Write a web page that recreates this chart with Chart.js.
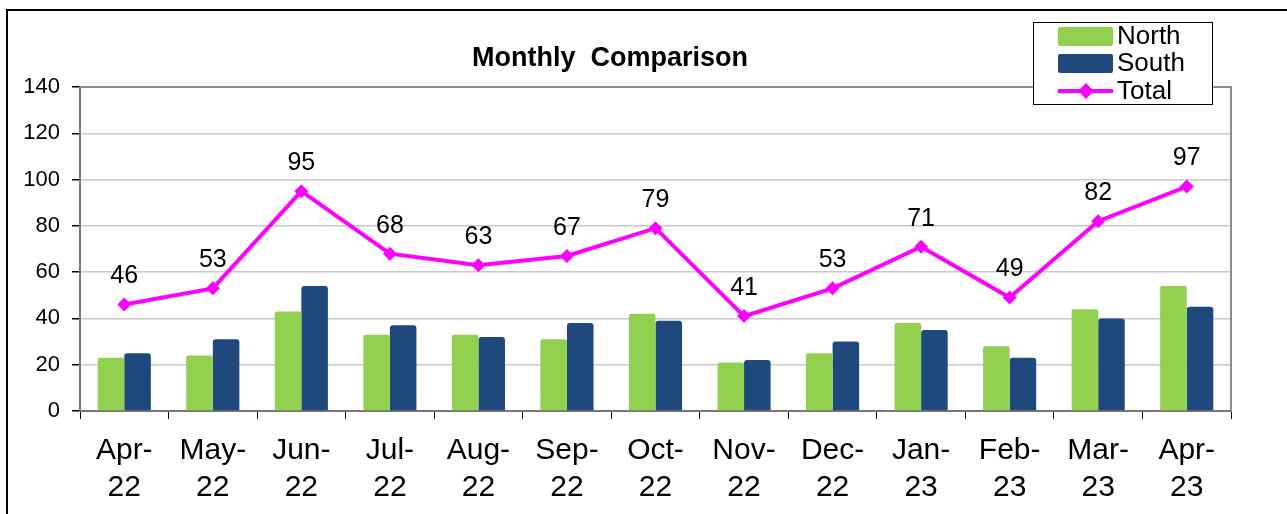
<!DOCTYPE html>
<html>
<head>
<meta charset="utf-8">
<script src="https://cdn.jsdelivr.net/npm/chart.js@4.4.1/dist/chart.umd.min.js"></script>
<style>
html,body{margin:0;padding:0;background:#fff;}
#wrap{position:relative;width:1287px;height:514px;}
</style>
</head>
<body>
<div id="wrap"><canvas id="c" width="1287" height="514"></canvas></div>
<script>
const categories = [['Apr-','22'],['May-','22'],['Jun-','22'],['Jul-','22'],['Aug-','22'],['Sep-','22'],['Oct-','22'],['Nov-','22'],['Dec-','22'],['Jan-','23'],['Feb-','23'],['Mar-','23'],['Apr-','23']];
const northValues = [23, 24, 43, 33, 33, 31, 42, 21, 25, 38, 28, 44, 54];
const southValues = [25, 31, 54, 37, 32, 38, 39, 22, 30, 35, 23, 40, 45];
const totalValues = [46, 53, 95, 68, 63, 67, 79, 41, 53, 71, 49, 82, 97];
const yTicks = [0, 20, 40, 60, 80, 100, 120, 140];
const chartTitle = 'Monthly  Comparison';

const FONT = '"Liberation Sans", Arial, sans-serif';
const GREEN = '#92D050', BLUE = '#1F497D', MAGENTA = '#FF00FF';

const framePlugin = {
  id: 'frame',
  beforeDraw(chart) {
    const ctx = chart.ctx;
    ctx.save();
    ctx.fillStyle = '#fff';
    ctx.fillRect(0, 0, chart.width, chart.height);
    ctx.strokeStyle = '#000';
    ctx.lineWidth = 2;
    ctx.beginPath();
    ctx.moveTo(7, chart.height);
    ctx.lineTo(7, 10);
    ctx.lineTo(chart.width, 10);
    ctx.stroke();
    ctx.restore();
  },
  afterDatasetsDraw(chart) {
    const ctx = chart.ctx, a = chart.chartArea;
    ctx.save();
    ctx.strokeStyle = '#8c8c8c';
    ctx.lineWidth = 2;
    ctx.beginPath();
    ctx.moveTo(a.left, a.top);
    ctx.lineTo(a.right, a.top);
    ctx.lineTo(a.right, a.bottom);
    ctx.stroke();
    ctx.restore();
  },
  afterDraw(chart) {
    const ctx = chart.ctx;
    ctx.save();
    // title
    ctx.fillStyle = '#000';
    ctx.font = 'bold 27px ' + FONT;
    ctx.textAlign = 'center';
    ctx.textBaseline = 'alphabetic';
    ctx.fillText(chartTitle, 610, 66);
    // data labels for total
    const meta = chart.getDatasetMeta(2);
    ctx.font = '25px ' + FONT;
    ctx.textBaseline = 'middle';
    meta.data.forEach((pt, i) => {
      ctx.fillText(String(totalValues[i]), pt.x, pt.y - 28);
    });
    // legend
    const lx = 1033, ly = 22, lw = 179, lh = 82;
    ctx.fillStyle = '#fff';
    ctx.fillRect(lx, ly, lw, lh);
    ctx.strokeStyle = '#000';
    ctx.lineWidth = 1;
    ctx.strokeRect(lx + 0.5, ly + 0.5, lw, lh);
    const rows = [36, 63, 91];
    ctx.font = '26px ' + FONT;
    ctx.textAlign = 'left';
    chart.data.datasets.forEach((d, i) => {
      const y = rows[i];
      if (d.type === 'line') {
        ctx.strokeStyle = MAGENTA;
        ctx.lineWidth = 4;
        ctx.beginPath();
        ctx.moveTo(1058, y);
        ctx.lineTo(1113, y);
        ctx.stroke();
        ctx.fillStyle = MAGENTA;
        ctx.beginPath();
        ctx.moveTo(1086, y - 8);
        ctx.lineTo(1094, y);
        ctx.lineTo(1086, y + 8);
        ctx.lineTo(1078, y);
        ctx.closePath();
        ctx.fill();
      } else {
        ctx.fillStyle = d.backgroundColor;
        ctx.beginPath();
        ctx.roundRect(1058, y - 9, 55, 19, 2);
        ctx.fill();
      }
      ctx.fillStyle = '#000';
      ctx.fillText(d.label, 1117, y + 1);
    });
    ctx.restore();
  }
};

new Chart(document.getElementById('c'), {
  type: 'bar',
  data: {
    labels: categories,
    datasets: [
      { type: 'bar', label: 'North', data: northValues, backgroundColor: GREEN, borderRadius: {topLeft: 2, topRight: 2}, borderSkipped: 'bottom', categoryPercentage: 0.6, barPercentage: 1.0, order: 2 },
      { type: 'bar', label: 'South', data: southValues, backgroundColor: BLUE, borderRadius: {topLeft: 3, topRight: 3}, borderSkipped: 'bottom', categoryPercentage: 0.6, barPercentage: 1.0, order: 2 },
      { type: 'line', label: 'Total', data: totalValues, borderColor: MAGENTA, backgroundColor: MAGENTA, borderWidth: 4, pointStyle: 'rectRot', pointRadius: 7, pointHoverRadius: 7, pointBorderWidth: 0, tension: 0, order: 1 }
    ]
  },
  options: {
    responsive: false,
    animation: false,
    devicePixelRatio: 1,
    layout: { padding: { left: 0, top: 87, right: 56, bottom: 0 } },
    plugins: { legend: { display: false }, title: { display: false }, tooltip: { enabled: false } },
    scales: {
      x: {
        offset: true,
        grid: { offset: true, drawOnChartArea: false, drawTicks: true, tickLength: 8, color: '#000', lineWidth: 1 },
        border: { display: true, color: '#777', width: 2 },
        ticks: { color: '#000', font: { family: FONT, size: 30, lineHeight: 1.23 }, padding: 13, maxRotation: 0, autoSkip: false },
        afterFit(scale) { scale.height = 103; }
      },
      y: {
        min: 0, max: 140,
        afterBuildTicks(scale) { scale.ticks = yTicks.map(v => ({ value: v })); },
        grid: { color: (c) => c.tick && c.tick.value === 0 ? '#777' : '#c8c8c8', lineWidth: 1.5, drawTicks: true, tickLength: 8, tickColor: '#000' },
        border: { display: true, color: '#777', width: 2 },
        ticks: { color: '#000', font: { family: FONT, size: 22 }, padding: 12 },
        afterFit(scale) { scale.width = 80; }
      }
    }
  },
  plugins: [framePlugin]
});
</script>
</body>
</html>
